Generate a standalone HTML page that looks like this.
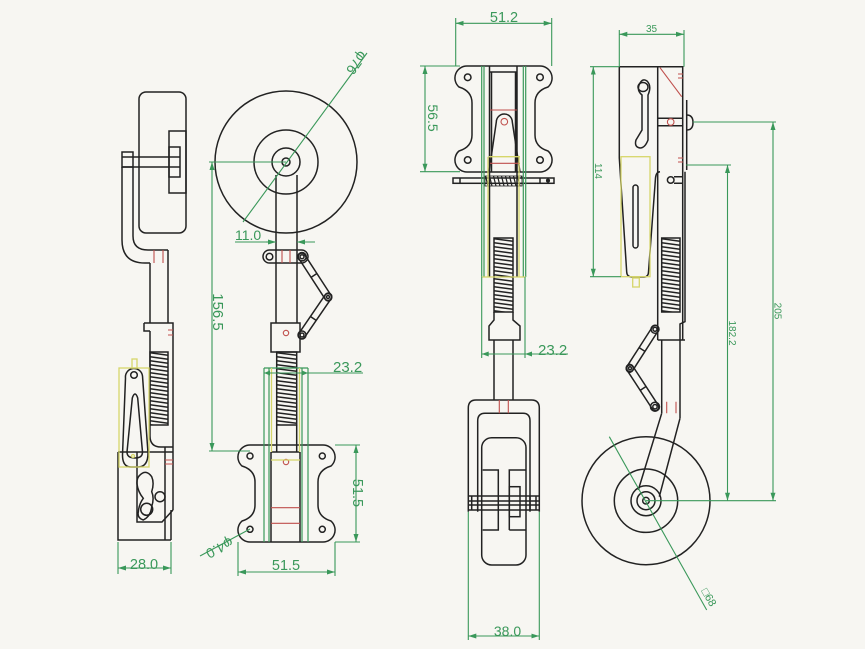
<!DOCTYPE html>
<html><head><meta charset="utf-8"><style>
html,body{margin:0;padding:0;background:#f7f6f2;}
svg{display:block}
text{font-family:"Liberation Sans",sans-serif;fill:#3a985a}
</style></head><body>
<svg width="865" height="649" viewBox="0 0 865 649" xmlns="http://www.w3.org/2000/svg">
<defs>
<marker id="ar" viewBox="0 0 8 6" refX="8" refY="3" markerWidth="8" markerHeight="6" orient="auto-start-reverse" markerUnits="userSpaceOnUse"><path d="M0,0.5 L8,3 L0,5.5z" fill="#3a985a"/></marker>
<pattern id="sp1" patternUnits="userSpaceOnUse" x="150" y="352" width="18" height="4"><line x1="0" y1="0.8" x2="18" y2="3.2" stroke="#222" stroke-width="1.5"/></pattern>
<pattern id="sp2" patternUnits="userSpaceOnUse" x="276.7" y="352" width="20" height="4"><line x1="0" y1="0.8" x2="20" y2="3.2" stroke="#222" stroke-width="1.5"/></pattern>
<pattern id="sp3" patternUnits="userSpaceOnUse" x="494" y="238" width="19" height="4"><line x1="0" y1="0.8" x2="19" y2="3.2" stroke="#222" stroke-width="1.5"/></pattern>
<pattern id="sp4" patternUnits="userSpaceOnUse" x="661.7" y="238" width="18.3" height="4"><line x1="0" y1="0.8" x2="18.3" y2="3.2" stroke="#222" stroke-width="1.5"/></pattern>
<pattern id="sp5" patternUnits="userSpaceOnUse" x="485" y="176" width="4" height="10"><line x1="0.5" y1="0" x2="3" y2="10" stroke="#222" stroke-width="1.2"/></pattern>
</defs>
<rect width="865" height="649" fill="#f7f6f2"/>

<!-- ================= VIEW 1 ================= -->
<g fill="none" stroke="#222" stroke-width="1.5">
<rect x="139" y="92" width="47" height="141" rx="7"/>
<rect x="169" y="131" width="17" height="62"/>
<rect x="169" y="147" width="11" height="30"/>
<path d="M122 157 H180 M122 167 H180"/>
<rect x="122" y="152" width="11" height="15"/>
<path d="M122 167 V240 Q122 263 145 263 H150"/>
<path d="M133 167 V236 Q133 250 148 250 H168"/>
<path d="M150 263 V323 M168 250 V323"/>
<path d="M144 323 H173 V510 M144 323 V331 H150 M150 331 V436 Q150 447 161 447 H173"/>
<path d="M165 447 V540 M171 510 V540"/>
<path d="M137 452 H173 M173 510 L162 522 H137 V452"/>
<path d="M118 452 V540 H171 M118 452 H137"/>
<rect x="150" y="352" width="18" height="73" fill="url(#sp1)"/>
<path d="M125.5 378 A8.5 8.5 0 0 1 142.5 376 L148 453 Q148 467 138 467 H131 Q122.5 467 122.5 455 Z"/>
<path d="M132.3 398 Q135 390 137.7 398 L142.5 452 Q142.5 458 135 458 Q127 458 127 452 Z"/>
<circle cx="134" cy="375" r="3.3"/>
<path d="M140 475 Q146 469 151.7 476.7 Q154.5 483 151.7 491.7 Q154.5 498 151.7 506.7 Q151 516 143.3 520 Q137 518 138.3 512 Q139 504 143.3 498.3 Q138 492 137 484 Q136.5 478 140 475 Z"/>
<circle cx="160" cy="496.7" r="5"/>
<circle cx="146.7" cy="509.3" r="6"/>
</g>
<g stroke="#c0504d" stroke-width="1.1" fill="none">
<path d="M154 250 V263 M163 250 V263"/>
<path d="M168 330 H173 M168 335 H173 M165 460 H173 M165 464 H173"/>
</g>
<g stroke="#d6d66a" stroke-width="1.3" fill="none">
<rect x="119" y="368" width="30" height="99"/>
<rect x="132" y="359" width="5" height="9"/>
<circle cx="133" cy="456" r="1.5"/>
</g>
<g stroke="#3a985a" stroke-width="1.1" fill="none">
<path d="M118 542 V574 M171 542 V574"/>
<line x1="118" y1="568" x2="171" y2="568" marker-start="url(#ar)" marker-end="url(#ar)"/>
</g>
<text x="144" y="569" font-size="14.5" text-anchor="middle">28.0</text>

<!-- ================= VIEW 2 ================= -->
<g fill="none" stroke="#222" stroke-width="1.5">
<circle cx="286" cy="162" r="71"/>
<circle cx="286" cy="162" r="32"/>
<circle cx="286" cy="162" r="14"/>
<circle cx="286" cy="162" r="4"/>
<path d="M276 175 V323 M297 175 V323"/>
<rect x="263" y="250" width="45" height="13" rx="6.5"/>
<circle cx="269.5" cy="256.7" r="3.3"/>
<circle cx="302" cy="256.7" r="4.2"/>
<circle cx="302" cy="256.7" r="2"/>
<g transform="translate(302,257) rotate(57)"><rect x="-4" y="-3.5" width="55.7" height="7" rx="3.5"/><line x1="22" y1="-3.5" x2="22" y2="3.5"/></g>
<g transform="translate(328,297) rotate(124.4)"><rect x="-4" y="-3.5" width="54" height="7" rx="3.5"/><line x1="26" y1="-3.5" x2="26" y2="3.5"/></g>
<circle cx="328" cy="297" r="3.5"/>
<circle cx="328" cy="297" r="1.5"/>
<circle cx="302" cy="335" r="4"/>
<circle cx="302" cy="335" r="2"/>
<rect x="271" y="323" width="29" height="29"/>
<rect x="276.7" y="352" width="20" height="73" fill="url(#sp2)"/>
<path d="M276.7 425 V452 M296.7 425 V452 M271 452 H300 M271 452 V542 M300 452 V542"/>
<path d="M250 445 H323 A12 12 0 0 1 331 466 Q318 470 318 482 V505 Q318 517 331 521 A12 12 0 0 1 323 542 H250 A12 12 0 0 1 242 521 Q255 517 255 505 V482 Q255 470 242 466 A12 12 0 0 1 250 445 Z"/>
<circle cx="250" cy="456" r="3"/>
<circle cx="322.3" cy="456" r="3"/>
<circle cx="250" cy="529.3" r="3"/>
<circle cx="322.3" cy="529.3" r="3"/>
</g>
<g stroke="#c0504d" stroke-width="1.1" fill="none">
<path d="M282 250 V263 M290 250 V263"/>
<circle cx="286" cy="333" r="2.7"/>
<circle cx="286" cy="462" r="2.7"/>
<path d="M271 507.7 H300 M271 523.3 H300"/>
</g>
<g stroke="#3a985a" stroke-width="1.2" fill="none">
<path d="M264 368 V542 M269 368 V542 M302 368 V542 M308 368 V542 M264 368 H308"/>
</g>
<g stroke="#d6d66a" stroke-width="1.3" fill="none">
<path d="M271.5 368 V452 M299.5 368 V452 M271 460 H300"/>
</g>
<g stroke="#3a985a" stroke-width="1.1" fill="none">
<line x1="243" y1="222" x2="367" y2="53"/>
<line x1="209" y1="162" x2="286" y2="162"/>
<line x1="212" y1="162" x2="212" y2="451" marker-start="url(#ar)" marker-end="url(#ar)"/>
<line x1="209" y1="451" x2="250" y2="451"/>
<path d="M235 242 H266"/>
<line x1="266" y1="242" x2="276" y2="242" marker-end="url(#ar)"/>
<line x1="315" y1="242" x2="297" y2="242" marker-end="url(#ar)"/>
<line x1="264" y1="373" x2="363" y2="373"/>
<path d="M264 373 l6 -2.5 v5z M308 373 l-6 -2.5 v5z" fill="#3a985a" stroke="none"/>
<path d="M335 445 H360 M335 542 H360"/>
<line x1="356" y1="445" x2="356" y2="542" marker-start="url(#ar)" marker-end="url(#ar)"/>
<path d="M238 542 V576 M335 542 V576"/>
<line x1="238" y1="572" x2="335" y2="572" marker-start="url(#ar)" marker-end="url(#ar)"/>
<line x1="250" y1="529" x2="200" y2="556"/>
</g>
<text transform="translate(360,50) rotate(126)" font-size="14">φ76</text>
<text x="235" y="240" font-size="14">11.0</text>
<text transform="translate(213,312) rotate(90)" font-size="15" text-anchor="middle">156.5</text>
<text x="333" y="372" font-size="15">23.2</text>
<text transform="translate(353,493) rotate(90)" font-size="14.5" text-anchor="middle">51.5</text>
<text x="286" y="570" font-size="14.5" text-anchor="middle">51.5</text>
<text transform="translate(230,537) rotate(152)" font-size="14">φ4.0</text>

<!-- ================= VIEW 3 ================= -->
<g fill="none" stroke="#222" stroke-width="1.5">
<path d="M467 66 H540 A12 12 0 0 1 548 87 Q535 91 535 103 V135 Q535 147 548 151 A12 12 0 0 1 540 172 H467 A12 12 0 0 1 459 151 Q472 147 472 135 V103 Q472 91 459 87 A12 12 0 0 1 467 66 Z"/>
<circle cx="467.7" cy="77.3" r="3.3"/>
<circle cx="540" cy="77.3" r="3.3"/>
<circle cx="467.7" cy="160" r="3.3"/>
<circle cx="540" cy="160" r="3.3"/>
<path d="M489.5 66 V277 M517 66 V277 M491.5 72 V172 M515.5 72 V172 M489.5 72 H517"/>
<path d="M489 172 L496.3 122 A8 8 0 0 1 512.3 122 L520 172"/>
<rect x="453" y="178" width="101" height="5.3"/>
<rect x="485" y="176" width="37" height="10" fill="url(#sp5)" stroke-width="0.8"/>
<path d="M460 178 V183.3 M540 178 V183.3"/>
<circle cx="548" cy="180.6" r="1.3" fill="#222"/>
<rect x="494" y="238" width="19" height="74" fill="url(#sp3)"/>
<path d="M494 312 V320 L489 326 V340 H520 V326 L513 320 V312"/>
<path d="M494 340 V400 M513 340 V400"/>
<path d="M468.3 511.7 V408 Q468.3 400 476 400 H531.5 Q539.3 400 539.3 408 V511.7"/>
<path d="M477.7 511.7 V421 Q477.7 413.3 485 413.3 H523 Q530 413.3 530 421 V511.7"/>
<rect x="481.7" y="437.7" width="44.3" height="127.3" rx="10"/>
<path d="M482.7 470 H498.3 V530 H482.7 M509.3 530 V470 H526 M509.3 530 H526"/>
<rect x="509.3" y="486.7" width="10.7" height="30"/>
<path d="M468.3 496 H539.3 M468.3 501 H539.3 M468.3 505 H539.3 M468.3 510 H539.3"/>
<path d="M471.7 496 V510 M477.7 496 V510 M530 496 V510 M536 496 V510"/>
</g>
<g stroke="#c0504d" stroke-width="1.1" fill="none">
<path d="M490 110 H517 M490 163.3 H520"/>
<circle cx="504.3" cy="121.7" r="3.3"/>
<path d="M499.3 400 V413.3 M508.3 400 V413.3"/>
</g>
<g stroke="#3a985a" stroke-width="1.2" fill="none">
<path d="M481.7 66 V277 M484 66 V277 M523.3 66 V277 M525.7 66 V277"/>
</g>
<g stroke="#d6d66a" stroke-width="1.3" fill="none">
<path d="M489 156.7 H520 M488 156.7 V277 M519 156.7 V277 M481.7 277 H525.7"/>
</g>
<g stroke="#3a985a" stroke-width="1.1" fill="none">
<path d="M455.7 18 V66 M551.7 18 V66"/>
<line x1="455.7" y1="23.3" x2="551.7" y2="23.3" marker-start="url(#ar)" marker-end="url(#ar)"/>
<path d="M420 66 H460 M420 171.7 H460"/>
<line x1="425" y1="66" x2="425" y2="171.7" marker-start="url(#ar)" marker-end="url(#ar)"/>
<path d="M481.7 277 V358 M525 277 V358"/>
<line x1="481.7" y1="354" x2="568" y2="354"/>
<path d="M481.7 354 l7 -2.5 v5z M525 354 l7 -2.5 v5z" fill="#3a985a" stroke="none"/>
<path d="M468.3 511.7 V640 M539.3 511.7 V640"/>
<line x1="468.3" y1="636" x2="539.3" y2="636" marker-start="url(#ar)" marker-end="url(#ar)"/>
</g>
<text x="504" y="22" font-size="14.5" text-anchor="middle">51.2</text>
<text transform="translate(428,118) rotate(90)" font-size="14" text-anchor="middle">56.5</text>
<text x="538" y="355" font-size="15">23.2</text>
<text x="507.5" y="636" font-size="14" text-anchor="middle">38.0</text>

<!-- ================= VIEW 4 ================= -->
<g fill="none" stroke="#222" stroke-width="1.5">
<path d="M619.3 66.7 H682.7 V340"/>
<path d="M619.3 66.7 V158 L626.7 272 Q627 277 632 277 H644 Q648.3 277 648.5 272 L655.5 178 Q656 172 660 171.7"/>
<path d="M657.7 66.7 V340"/>
<path d="M686.7 100 V170"/>
<path d="M657.7 118.3 H682.7 M657.7 125.7 H682.7"/>
<path d="M686.7 115 Q693 115 693 122.5 Q693 130 686.7 130"/>
<circle cx="670.7" cy="180" r="3.3"/>
<path d="M674 176.7 H682.7 M674 183.3 H682.7"/>
<path d="M640 83 Q636 90 642 95 L642 130 L636 140 Q634 147 640 148 Q645 148 648 140 L648 95 Q652 86 647 81 Q643 78 640 83 Z"/>
<ellipse cx="643" cy="87" rx="5" ry="4.5"/>
<rect x="633" y="185" width="5" height="63" rx="2.5"/>
<rect x="661.7" y="238" width="18.3" height="74" fill="url(#sp4)"/>
<path d="M685 171.7 V321.7 L680 324 V340 M657.7 340 H685"/>
<path d="M661.7 340 V413.3 M680 340 V418.3"/>
<path d="M661.7 413.3 L638.3 490 M680 418.3 L659.3 496.7"/>
<g transform="translate(655,329.3) rotate(122.7)"><rect x="-4" y="-3.5" width="54.3" height="7" rx="3.5"/><line x1="24" y1="-3.5" x2="24" y2="3.5"/></g>
<g transform="translate(630,368.3) rotate(56.9)"><rect x="-4" y="-3.5" width="53.8" height="7" rx="3.5"/><line x1="24" y1="-3.5" x2="24" y2="3.5"/></g>
<circle cx="655" cy="329.3" r="4"/>
<circle cx="655" cy="329.3" r="2"/>
<circle cx="630" cy="368.3" r="3.3"/>
<circle cx="630" cy="368.3" r="1.5"/>
<circle cx="655" cy="406.7" r="4.5"/>
<circle cx="655" cy="406.7" r="2.2"/>
<circle cx="646" cy="500.7" r="64"/>
<circle cx="646" cy="500.7" r="31.7"/>
<circle cx="646" cy="500.7" r="15"/>
<circle cx="646" cy="500.7" r="9"/>
<circle cx="646" cy="500.7" r="3.3"/>
</g>
<g stroke="#c0504d" stroke-width="1.1" fill="none">
<line x1="660" y1="67.7" x2="681.7" y2="96.7"/>
<path d="M678 74 H683 M678 78 H683 M678 158 H683 M678 162 H683"/>
<circle cx="670.7" cy="122" r="3.3"/>
<path d="M666.7 401.7 V413.3 M676 401.7 V413.3"/>
</g>
<g stroke="#d6d66a" stroke-width="1.3" fill="none">
<rect x="621" y="156.7" width="29" height="120"/>
<rect x="632.7" y="278" width="6.6" height="9"/>
</g>
<g stroke="#3a985a" stroke-width="1.1" fill="none">
<path d="M619.3 30 V66.7 M684 30 V66.7"/>
<line x1="619.3" y1="34.3" x2="684" y2="34.3" marker-start="url(#ar)" marker-end="url(#ar)"/>
<path d="M590 66.7 H619.3 M590 276.7 H621"/>
<line x1="593.3" y1="66.7" x2="593.3" y2="276.7" marker-start="url(#ar)" marker-end="url(#ar)"/>
<line x1="693" y1="122" x2="776" y2="122"/>
<line x1="686" y1="165" x2="731" y2="165"/>
<line x1="646" y1="500.7" x2="776" y2="500.7"/>
<line x1="773" y1="122" x2="773" y2="500.7" marker-start="url(#ar)" marker-end="url(#ar)"/>
<line x1="727.5" y1="165" x2="727.5" y2="500.7" marker-start="url(#ar)" marker-end="url(#ar)"/>
<line x1="609.3" y1="436.7" x2="706.7" y2="610"/>
</g>
<text x="651.5" y="32" font-size="10" text-anchor="middle">35</text>
<text transform="translate(595,171) rotate(90)" font-size="10" text-anchor="middle">114</text>
<text transform="translate(774.5,311) rotate(90)" font-size="10" text-anchor="middle">205</text>
<text transform="translate(729,333) rotate(90)" font-size="10" text-anchor="middle">182.2</text>
<text transform="translate(701,591) rotate(60)" font-size="11">□68</text>
</svg>
</body></html>
